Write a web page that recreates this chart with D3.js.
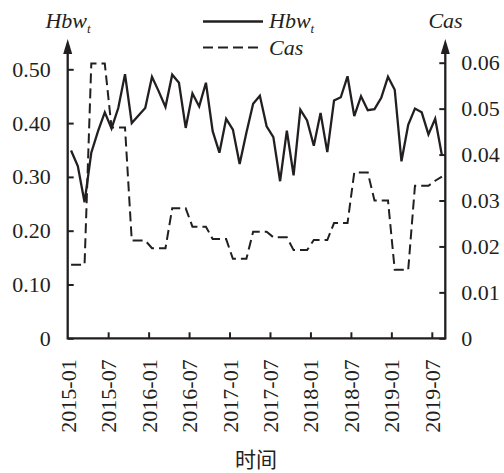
<!DOCTYPE html>
<html>
<head>
<meta charset="utf-8">
<script src="https://cdn.jsdelivr.net/npm/d3@7/dist/d3.min.js"></script>
<style>
  body { margin: 0; background: #fff; }
  svg text { fill: #231f20; }
</style>
</head>
<body>
<svg id="chart" width="504" height="473"></svg>
<script>
// monthly categories 2015-01 .. 2019-08
var months = d3.timeMonth.range(new Date(2015, 0, 1), new Date(2019, 8, 1)).map(d3.timeFormat("%Y-%m"));

var hbw = [0.349, 0.320, 0.253, 0.345, 0.385, 0.420, 0.390, 0.428, 0.491, 0.400,
           0.414, 0.428, 0.486, 0.459, 0.430, 0.490, 0.475, 0.391, 0.455, 0.431,
           0.475, 0.385, 0.345, 0.408, 0.388, 0.324, 0.382, 0.436, 0.451, 0.394,
           0.374, 0.292, 0.386, 0.303, 0.425, 0.405, 0.358, 0.419, 0.346, 0.442,
           0.448, 0.487, 0.413, 0.450, 0.424, 0.426, 0.447, 0.486, 0.462, 0.329,
           0.397, 0.427, 0.420, 0.379, 0.408, 0.340];

var cas = [0.0160, 0.0160, 0.0160, 0.0598, 0.0598, 0.0598, 0.0459, 0.0459, 0.0459, 0.0213,
           0.0213, 0.0213, 0.0196, 0.0196, 0.0196, 0.0283, 0.0283, 0.0283, 0.0243, 0.0243,
           0.0243, 0.0216, 0.0216, 0.0216, 0.0173, 0.0173, 0.0173, 0.0232, 0.0232, 0.0232,
           0.0220, 0.0220, 0.0220, 0.0192, 0.0192, 0.0192, 0.0214, 0.0214, 0.0214, 0.0251,
           0.0251, 0.0251, 0.0361, 0.0361, 0.0361, 0.0300, 0.0300, 0.0300, 0.0149, 0.0149,
           0.0149, 0.0332, 0.0332, 0.0332, 0.0343, 0.0352];

var leftTicks = [0, 0.1, 0.2, 0.3, 0.4, 0.5];
var rightTicks = [0, 0.01, 0.02, 0.03, 0.04, 0.05, 0.06];
var xTicks = ["2015-01", "2015-07", "2016-01", "2016-07", "2017-01", "2017-07", "2018-01", "2018-07", "2019-01", "2019-07"];

var ink = "#231f20";
var serif = "Liberation Serif";
var plotLeft = 67.7, plotRight = 445.3, plotBottom = 338.3, plotTop = 39;

var svg = d3.select("#chart");

// x: month index, points sit in the middle of each month
var x = d3.scaleLinear().domain([0, months.length]).range([plotLeft, plotRight]);
var yL = d3.scaleLinear().domain([0, 0.5]).range([plotBottom, 69.3]);
var yR = d3.scaleLinear().domain([0, 0.06]).range([plotBottom, 62.7]);

var fmt = function(d) { return d === 0 ? "0" : d3.format(".2f")(d); };

var gL = svg.append("g").attr("transform", "translate(" + plotLeft + ",0)")
  .call(d3.axisLeft(yL).tickValues(leftTicks).tickFormat(fmt).tickSize(-6).tickPadding(17));
var gR = svg.append("g").attr("transform", "translate(" + plotRight + ",0)")
  .call(d3.axisRight(yR).tickValues(rightTicks).tickFormat(fmt).tickSize(-6).tickPadding(16));
var gB = svg.append("g").attr("transform", "translate(0," + plotBottom + ")")
  .call(d3.axisBottom(x).tickValues(xTicks.map(function(m) { return months.indexOf(m); }))
    .tickFormat(function(i) { return months[i]; }).tickSize(-6));

[gL, gR, gB].forEach(function(g) {
  g.attr("font-family", serif);
  g.select(".domain").remove();
  g.selectAll("line").attr("stroke", ink).attr("stroke-width", 2);
  g.selectAll("text").attr("font-family", serif).attr("font-size", 22).attr("fill", ink);
});
gB.selectAll(".tick line").filter(function(d) { return d === 0; }).remove();
gB.selectAll("text")
  .attr("text-anchor", "end")
  .attr("transform", "translate(0,21) rotate(-90)")
  .attr("x", 0).attr("y", 0).attr("dy", "0.34em");

// axis frame with arrows on both y axes
svg.append("path")
  .attr("d", "M" + plotLeft + "," + (plotTop + 10) + "V" + plotBottom + "H" + plotRight + "V" + (plotTop + 10))
  .attr("fill", "none").attr("stroke", ink).attr("stroke-width", 2.3);
[plotLeft, plotRight].forEach(function(ax) {
  svg.append("path")
    .attr("d", "M" + ax + "," + plotTop + "L" + (ax - 4.5) + "," + (plotTop + 15) + "L" + (ax + 4.5) + "," + (plotTop + 15) + "Z")
    .attr("fill", ink);
});

// series
var lineH = d3.line().x(function(d, i) { return x(i + 0.5); }).y(function(d) { return yL(d); });
var lineC = d3.line().x(function(d, i) { return x(i + 0.5); }).y(function(d) { return yR(d); });

svg.append("path").datum(cas).attr("d", lineC)
  .attr("fill", "none").attr("stroke", ink).attr("stroke-width", 2).attr("stroke-dasharray", "10,5");
svg.append("path").datum(hbw).attr("d", lineH)
  .attr("fill", "none").attr("stroke", ink).attr("stroke-width", 2.3);

// italic Hbw with subscript t
function hbwLabel(xPos, yPos, anchor) {
  var t = svg.append("text").attr("x", xPos).attr("y", yPos).attr("text-anchor", anchor)
    .attr("font-family", serif).attr("font-size", 22).attr("font-style", "italic");
  t.append("tspan").text("Hbw");
  t.append("tspan").attr("font-size", 13).attr("dy", 5).text("t");
  return t;
}

// axis titles
hbwLabel(68, 28, "middle");
svg.append("text").attr("x", 445.5).attr("y", 28).attr("text-anchor", "middle")
  .attr("font-family", serif).attr("font-size", 22).attr("font-style", "italic").text("Cas");

// legend
svg.append("line").attr("x1", 203).attr("x2", 263).attr("y1", 21.5).attr("y2", 21.5)
  .attr("stroke", ink).attr("stroke-width", 2.3);
hbwLabel(269, 28, "start");
svg.append("line").attr("x1", 203).attr("x2", 263).attr("y1", 47.5).attr("y2", 47.5)
  .attr("stroke", ink).attr("stroke-width", 2).attr("stroke-dasharray", "10,5");
svg.append("text").attr("x", 269).attr("y", 55).attr("font-family", serif)
  .attr("font-size", 22).attr("font-style", "italic").text("Cas");

// x title
svg.append("text").attr("x", 256).attr("y", 467).attr("text-anchor", "middle")
  .attr("font-family", "Noto Sans CJK SC").attr("font-size", 21).text("时间");
</script>
</body>
</html>
